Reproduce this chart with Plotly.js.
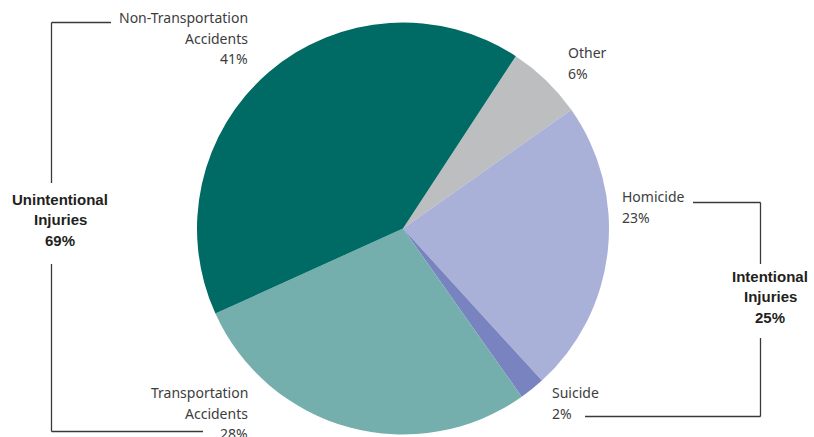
<!DOCTYPE html>
<html>
<head>
<meta charset="utf-8">
<script src="https://cdn.plot.ly/plotly-3.0.1.min.js"></script>
<style>html,body{margin:0;padding:0;background:#fff;}#chart{width:814px;height:437px;}</style>
</head>
<body>
<div id="chart"></div>
<script>
// Data
var sliceLabels = ['Other', 'Homicide', 'Suicide', 'Transportation Accidents', 'Non-Transportation Accidents'];
var sliceLines = [['Other'], ['Homicide'], ['Suicide'], ['Transportation', 'Accidents'], ['Non-Transportation', 'Accidents']];
var sliceValues = [6, 23, 2, 28, 41];
var sliceColors = ['#bcbec0', '#aab1d8', '#7883c0', '#74afae', '#006a64'];
var groupLines = [['Unintentional', 'Injuries'], ['Intentional', 'Injuries']];
var groupValues = [69, 25];

var W = 814, H = 437;
function px(x) { return x / W; }
function py(y) { return 1 - y / H; }

var cx = 403, cy = 228.5, R = 206;

var trace = {
  type: 'pie',
  labels: sliceLabels,
  values: sliceValues,
  marker: { colors: sliceColors, line: { width: 0 } },
  sort: false,
  direction: 'clockwise',
  rotation: 33.2,
  textinfo: 'none',
  hoverinfo: 'label+percent',
  showlegend: false,
  domain: { x: [px(cx - R), px(cx + R)], y: [py(cy + R), py(cy - R)] }
};

// label placement (layout): [x, anchor, first baseline]
var slicePos = [
  [568, 'left', 58],
  [622, 'left', 202],
  [552, 'left', 398],
  [248, 'right', 398],
  [248, 'right', 23]
];
var groupPos = [[60, 205], [770, 282]];
var lineGap = 20.3;

var annotations = [];
function addLine(text, x, anchor, baseline, font) {
  annotations.push({
    xref: 'paper', yref: 'paper', x: px(x), y: py(baseline - font.size * 0.36),
    xanchor: anchor, yanchor: 'middle', text: text, showarrow: false,
    borderpad: 0, borderwidth: 0, font: font
  });
}
var regFont = { family: 'Noto Sans, sans-serif', size: 14, color: '#3d3d3d' };
var boldFont = { family: 'Liberation Sans, Arial, sans-serif', size: 15, color: '#231f20', weight: 'bold' };

for (var i = 0; i < sliceLabels.length; i++) {
  var lines = sliceLines[i].concat([sliceValues[i] + '%']);
  for (var j = 0; j < lines.length; j++) {
    addLine(lines[j], slicePos[i][0], slicePos[i][1], slicePos[i][2] + j * lineGap, regFont);
  }
}
for (var g = 0; g < groupLines.length; g++) {
  var gl = groupLines[g].concat([groupValues[g] + '%']);
  for (var k = 0; k < gl.length; k++) {
    addLine('<b>' + gl[k] + '</b>', groupPos[g][0], 'center', groupPos[g][1] + k * lineGap, boldFont);
  }
}

var lc = { color: '#3a3a3a', width: 1.3 };
function seg(x0, y0, x1, y1) {
  return { type: 'line', xref: 'paper', yref: 'paper', x0: px(x0), y0: py(y0), x1: px(x1), y1: py(y1), line: lc };
}
var shapes = [
  // left bracket
  seg(51.5, 22.5, 111, 22.5),
  seg(51.5, 22.5, 51.5, 183),
  seg(51.5, 264, 51.5, 431.5),
  seg(51.5, 431.5, 203, 431.5),
  // right bracket
  seg(693, 202.5, 760.5, 202.5),
  seg(760.5, 202.5, 760.5, 264),
  seg(760.5, 338, 760.5, 416.5),
  seg(585, 416.5, 760.5, 416.5)
];

var layout = {
  width: W, height: H,
  margin: { l: 0, r: 0, t: 0, b: 0 },
  paper_bgcolor: '#ffffff',
  showlegend: false,
  annotations: annotations,
  shapes: shapes
};

Plotly.newPlot('chart', [trace], layout, { displayModeBar: false, staticPlot: true });
</script>
</body>
</html>
